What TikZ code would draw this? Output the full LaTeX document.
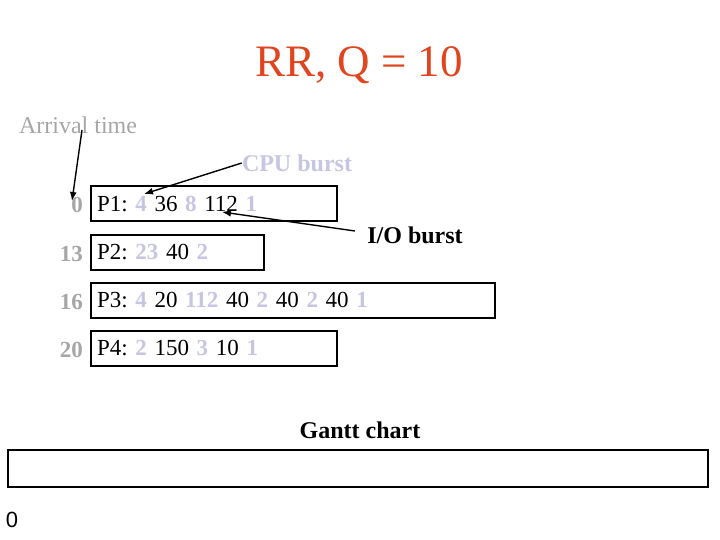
\documentclass[tikz,border=0pt]{standalone}
\usepackage{fontspec}
\setmainfont{Liberation Serif}
\setsansfont{Liberation Sans}
\usepackage{tikz}
\usetikzlibrary{arrows.meta, positioning}
\definecolor{titleorange}{HTML}{E0451F}
\definecolor{arrgray}{HTML}{A6A6A6}
\definecolor{burstblue}{HTML}{C6C6E2}
\frenchspacing
\tikzset{
    procbox/.style={draw, line width=2pt, anchor=west, minimum height=35pt, inner xsep=6pt, align=left, font=\fontsize{23}{27}\selectfont},
    arrtime/.style={anchor=east, inner sep=0pt, text=arrgray, font=\fontsize{23}{27}\selectfont\bfseries},
    pointer/.style={-{Latex[length=9pt, width=7pt]}, line width=1.4pt},
    plainlabel/.style={inner sep=0pt, font=\fontsize{24}{28}\selectfont}
}
\newcommand{\cpub}[1]{\textcolor{burstblue}{\bfseries #1}}

\begin{document}
\begin{tikzpicture}[x=1pt, y=-1pt]
            \useasboundingbox (0,0) rectangle (720,540);

            \node[plainlabel, text=titleorange, font=\fontsize{45}{50}\selectfont] (title) at (359,65) {RR, Q = 10};

            % Processes
            \node[procbox, text width=234pt] (p1) at (90,204) {P1: \cpub{4} 36 \cpub{8} 112 \cpub{1}};
            \node[procbox, text width=161pt] (p2) at (90,252) {P2: \cpub{23} 40 \cpub{2}};
            \node[procbox, text width=392pt] (p3) at (90,300) {P3: \cpub{4} 20 \cpub{112} 40 \cpub{2} 40 \cpub{2} 40 \cpub{1}};
            \node[procbox, text width=234pt] (p4) at (90,348) {P4: \cpub{2} 150 \cpub{3} 10 \cpub{1}};

            % Arrival times
            \node[arrtime] (t1) at (83,205) {0};
            \node[arrtime] (t2) at (83,254) {13};
            \node[arrtime] (t3) at (83,302) {16};
            \node[arrtime] (t4) at (83,350) {20};

            % Callouts
            \node[plainlabel, text=arrgray] (arrival) at (78,125) {Arrival time};
            \node[plainlabel, text=burstblue, font=\fontsize{24}{28}\selectfont\bfseries] (cpu) at (297,163) {CPU burst};
            \node[plainlabel, font=\fontsize{24}{28}\selectfont\bfseries] (io) at (415,235) {I/O burst};
            \coordinate (a0) at (82,130);
            \coordinate (a1) at (72,201);
            \coordinate (c1) at (144,194);
            \coordinate (i0) at (355,231);
            \coordinate (i1) at (222,212);
            \draw[pointer] (a0) -- (a1);
            \draw[pointer] (cpu.west) -- (c1);
            \draw[pointer] (i0) -- (i1);

            % Gantt chart
            \node[plainlabel, font=\fontsize{24}{28}\selectfont\bfseries] (gantt) at (360,430) {Gantt chart};
            \node[draw, line width=2pt, minimum width=700pt, minimum height=37pt, inner sep=0pt] (chart) at (358,468) {};
            \node[plainlabel, font=\fontsize{22}{26}\sffamily] (zero) at (12,520) {0};
        \end{tikzpicture}
\end{document}
